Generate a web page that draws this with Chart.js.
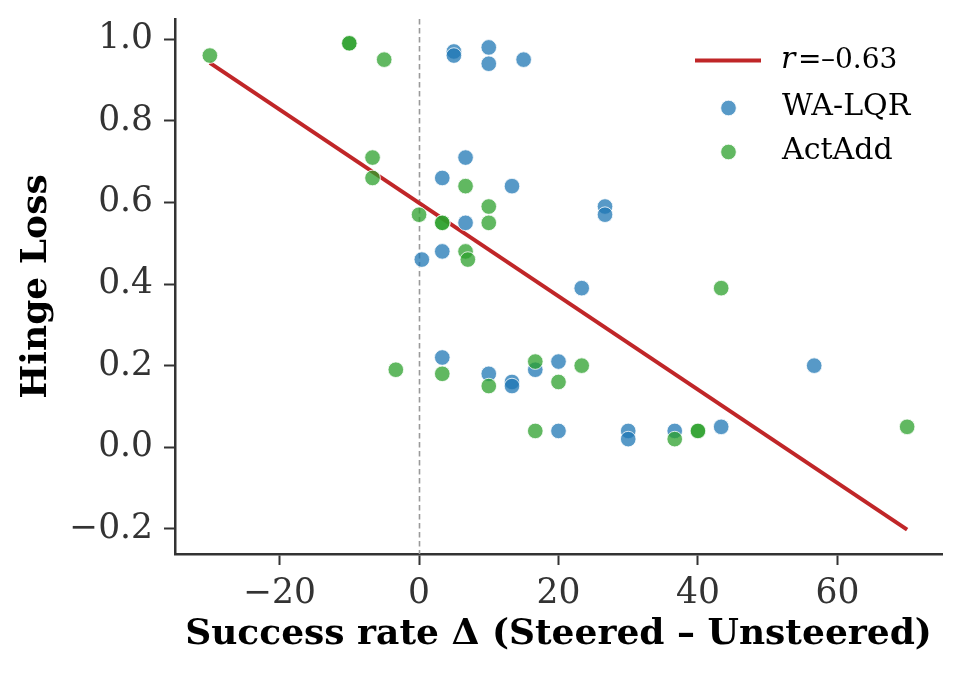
<!DOCTYPE html>
<html>
<head>
<meta charset="utf-8">
<script src="https://cdn.jsdelivr.net/npm/chart.js@4.4.0/dist/chart.umd.min.js"></script>
<style>
  html, body { margin: 0; padding: 0; background: #fff; }
</style>
</head>
<body>
<canvas id="scatterChart" width="962" height="678"></canvas>
<script>
// WA-LQR points
let lqrDelta = [5, 5, 10, 10, 15, 6.67, 3.33, 13.33, 6.67, 3.33, 0.4, 26.67, 26.67, 23.33, 3.33, 10, 13.33, 13.33, 16.67, 20, 20, 30, 30, 36.67, 43.33, 56.67];
let lqrLoss = [0.97, 0.96, 0.98, 0.94, 0.95, 0.71, 0.66, 0.64, 0.55, 0.48, 0.46, 0.59, 0.57, 0.39, 0.22, 0.18, 0.16, 0.15, 0.19, 0.21, 0.04, 0.04, 0.02, 0.04, 0.05, 0.20];

// ActAdd points
let actDelta = [-30, -10, -10, -5, -6.67, -6.67, 6.67, 10, 10, 0, 3.33, 3.33, 6.67, 7, 43.33, -3.33, 3.33, 10, 16.67, 20, 16.67, 23.33, 70, 36.67, 40, 40];
let actLoss = [0.96, 0.99, 0.99, 0.95, 0.71, 0.66, 0.64, 0.59, 0.55, 0.57, 0.55, 0.55, 0.48, 0.46, 0.39, 0.19, 0.18, 0.15, 0.21, 0.16, 0.04, 0.20, 0.05, 0.02, 0.04, 0.04];

// fitted line (end points)
let fitDelta = [-30, 70];
let fitLoss = [0.942, -0.202];

let xTicks = [-20, 0, 20, 40, 60];
let yTicks = [-0.2, 0, 0.2, 0.4, 0.6, 0.8, 1.0];

const toPoints = (xs, ys) => xs.map((x, i) => ({x: x, y: ys[i]}));
const minus = s => s.replace('-', '\u2212');

const serif = '"DejaVu Serif", serif';

// dashed line at zero
const zeroLine = {
  id: 'zeroLine',
  beforeDatasetsDraw(chart) {
    const {ctx, chartArea, scales} = chart;
    const x = Math.round(scales.x.getPixelForValue(0)) + 0.5;
    ctx.save();
    ctx.strokeStyle = '#9a9a9a';
    ctx.lineWidth = 1.6;
    ctx.setLineDash([5.5, 3.5]);
    ctx.beginPath();
    ctx.moveTo(x, chartArea.top);
    ctx.lineTo(x, chartArea.bottom);
    ctx.stroke();
    ctx.restore();
  }
};

// legend like the matplotlib one, no frame
const fitLegend = {
  id: 'fitLegend',
  afterDraw(chart) {
    const ctx = chart.ctx;
    const ds = chart.data.datasets;
    ctx.save();
    ctx.strokeStyle = ds[0].borderColor;
    ctx.lineWidth = ds[0].borderWidth;
    ctx.beginPath();
    ctx.moveTo(695, 60.5);
    ctx.lineTo(761, 60.5);
    ctx.stroke();

    ctx.fillStyle = '#000';
    ctx.textBaseline = 'alphabetic';
    ctx.textAlign = 'left';
    ctx.font = 'italic 30px ' + serif;
    ctx.fillText('r', 781, 68);
    ctx.font = '28px ' + serif;
    ctx.fillText('=', 798, 68);
    ctx.fillText('\u2013' + '0.63', 821, 68);

    [[ds[1], 108], [ds[2], 152]].forEach(([d, y]) => {
      ctx.beginPath();
      ctx.arc(728.5, y, d.pointRadius, 0, Math.PI * 2);
      ctx.fillStyle = d.backgroundColor;
      ctx.fill();
      ctx.lineWidth = d.borderWidth;
      ctx.strokeStyle = d.borderColor;
      ctx.stroke();
      ctx.fillStyle = '#000';
      ctx.font = '30px ' + serif;
      ctx.fillText(d.label, 782, y + 7);
    });
    ctx.restore();
  }
};

const scatterData = {
  datasets: [{
    type: 'line',
    label: 'r = -0.63',
    data: toPoints(fitDelta, fitLoss),
    borderColor: 'rgb(192, 38, 40)',
    borderWidth: 4,
    pointRadius: 0,
    showLine: true,
    fill: false,
    order: 3
  },
  {
    label: 'WA-LQR',
    data: toPoints(lqrDelta, lqrLoss),
    backgroundColor: 'rgba(31, 119, 180, 0.75)',
    borderColor: 'rgba(255, 255, 255, 0.8)',
    borderWidth: 1,
    pointRadius: 7.8,
    order: 2
  },
  {
    label: 'ActAdd',
    data: toPoints(actDelta, actLoss),
    backgroundColor: 'rgba(44, 160, 44, 0.75)',
    borderColor: 'rgba(255, 255, 255, 0.8)',
    borderWidth: 1,
    pointRadius: 7.8,
    order: 1
  }]
};

const scatterConfig = {
  type: 'scatter',
  data: scatterData,
  plugins: [zeroLine, fitLegend],
  options: {
    responsive: false,
    animation: false,
    events: [],
    layout: { padding: { top: 19, right: 20, left: 0, bottom: 0 } },
    plugins: {
      legend: { display: false },
      tooltip: { enabled: false }
    },
    scales: {
      x: {
        type: 'linear',
        min: -35,
        max: 75,
        afterBuildTicks: s => { s.ticks = xTicks.map(v => ({value: v})); },
        afterFit: s => { s.height = 124; s.paddingLeft = 0; s.paddingRight = 0; },
        grid: { drawOnChartArea: false, drawTicks: true, tickLength: 11, tickWidth: 2, tickColor: '#333' },
        border: { display: true, color: '#333', width: 2.5 },
        ticks: {
          color: '#333',
          padding: 8,
          maxRotation: 0,
          font: { family: serif, size: 34.5 },
          callback: v => minus(String(v))
        },
        title: {
          display: true,
          text: 'Success rate \u0394 (Steered \u2013 Unsteered)',
          color: '#000',
          font: { family: serif, size: 36, weight: 'bold' },
          padding: { top: 0, bottom: 22 }
        }
      },
      y: {
        type: 'linear',
        min: -0.2616,
        max: 1.0496,
        afterBuildTicks: s => { s.ticks = yTicks.map(v => ({value: v})); },
        afterFit: s => { s.width = 175; s.paddingTop = 0; s.paddingBottom = 0; },
        grid: { drawOnChartArea: false, drawTicks: true, tickLength: 11, tickWidth: 2, tickColor: '#333' },
        border: { display: true, color: '#333', width: 2.5 },
        ticks: {
          color: '#333',
          padding: 11,
          font: { family: serif, size: 34.5 },
          callback: v => minus(v.toFixed(1))
        },
        title: {
          display: true,
          text: 'Hinge Loss',
          color: '#000',
          font: { family: serif, size: 36, weight: 'bold' },
          padding: { top: 15, bottom: 0 }
        }
      }
    }
  }
};

let scatterChart = new Chart(
  document.getElementById('scatterChart'),
  scatterConfig
);
</script>
</body>
</html>
